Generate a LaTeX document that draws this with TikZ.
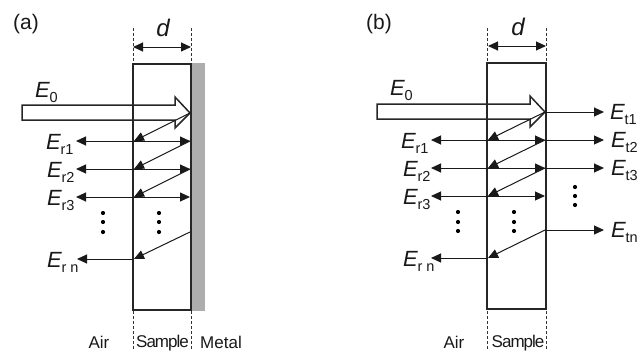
\documentclass[tikz,border=0pt]{standalone}
\usepackage{fontspec}
\setmainfont{Liberation Sans}
\usetikzlibrary{arrows.meta}
\tikzset{
  ln/.style={line width=1.5pt,black!85},
  ray/.style={line width=1pt,black!90,-{Triangle[length=10pt,width=9pt]}},
  dray/.style={line width=1pt,black!90,{Triangle[length=10pt,width=9pt]}-{Triangle[length=10pt,width=9pt]}},
  guide/.style={line width=0.7pt,black!80,dash pattern=on 3pt off 2pt},
  hollow/.style={line width=1.5pt,black!85,fill=white,line join=miter},
  lab/.style={inner sep=0pt,font=\fontsize{21}{21}\selectfont,black!90},
  elab/.style={inner sep=0pt,font=\fontsize{22}{22}\selectfont,black!90,anchor=base west},
  sm/.style={inner sep=0pt,font=\fontsize{17}{17}\selectfont,black!90},
  tight/.style={inner sep=0pt,font=\fontsize{17}{17}\selectfont\addfontfeature{LetterSpace=-6},black!90},
  dotm/.style={circle,fill=black,inner sep=0pt,minimum size=4.2pt}
}
\newcommand{\EE}[1]{\textit{E}\kern-0.5pt\raisebox{-5pt}{\fontsize{14.5}{15}\selectfont #1}}
\begin{document}
\begin{tikzpicture}[x=1pt,y=-1pt]
\useasboundingbox (0,0) rectangle (638,351);
% ---------- (a)
\node[lab] (pa) at (26,24) {(a)};
\fill[black!32] (191,63) rectangle (204.5,311);
\draw[guide] (133,28) -- (133,63);
\draw[guide] (191,28) -- (191,63);
\draw[guide] (133,311) -- (133,351);
\draw[guide] (191,311) -- (191,351);
\node[inner sep=0pt,font=\fontsize{24}{24}\selectfont\itshape,black!90] (da) at (163,28) {d};
\coordinate (dal) at (133,47); \coordinate (dar) at (191,47);
\draw[dray] (dal) -- (dar);
\draw[hollow] (22,105)--(175,105)--(175,97)--(190,113)--(175,128)--(175,120)--(22,120)--cycle;
\draw[ln] (133,64) rectangle (191,310);
\draw[ln] (133,105) -- (133,120);
\draw[ray] (190,113) -- (134,141);
\draw[dray] (76,141) -- (190,141);
\draw[ray] (190,141) -- (134,169);
\draw[dray] (76,169) -- (190,169);
\draw[ray] (190,169) -- (134,197);
\draw[dray] (76,197) -- (190,197);
\draw[ray] (190,232) -- (134,259);
\draw[ray] (134,259) -- (77,259);
\foreach \x in {103,159}{\foreach \y in {213,222,232}{\node[dotm] at (\x,\y) {};}}
\node[elab] (ae0) at (35,97) {\EE{0}};
\node[elab] (ae1) at (46,149) {\EE{r1}};
\node[elab] (ae2) at (47,177) {\EE{r2}};
\node[elab] (ae3) at (47,205) {\EE{r3}};
\node[elab] (aen) at (47,267) {\EE{r n}};
\node[sm] (aair) at (99,342) {Air};
\node[tight] (asam) at (162.5,343) {Sample};
\node[sm] (amet) at (221,342) {Metal};
% ---------- (b)
\node[lab] (pb) at (379,24) {(b)};
\draw[guide] (487,28) -- (487,62);
\draw[guide] (546,28) -- (546,62);
\draw[guide] (487,311) -- (487,351);
\draw[guide] (546,311) -- (546,351);
\node[inner sep=0pt,font=\fontsize{24}{24}\selectfont\itshape,black!90] (db) at (518,27) {d};
\coordinate (dbl) at (488,46); \coordinate (dbr) at (546,46);
\draw[dray] (dbl) -- (dbr);
\draw[hollow] (377,104)--(530,104)--(530,96)--(545,112)--(530,127)--(530,119)--(377,119)--cycle;
\draw[ln] (487,63) rectangle (546,309);
\draw[ln] (487,104) -- (487,119);
\draw[ray] (545,112) -- (488,140);
\draw[dray] (431,140) -- (545,140);
\draw[ray] (545,140) -- (488,168);
\draw[dray] (431,168) -- (545,168);
\draw[ray] (545,168) -- (488,196);
\draw[dray] (431,196) -- (545,196);
\draw[ray] (545,230) -- (488,258);
\draw[ray] (488,258) -- (431,258);
\draw[ray] (545,112) -- (604,112);
\draw[ray] (545,140) -- (604,140);
\draw[ray] (545,168) -- (604,168);
\draw[ray] (545,230) -- (604,230);
\foreach \x in {458,514}{\foreach \y in {212,222,231}{\node[dotm] at (\x,\y) {};}}
\foreach \y in {187,196,205}{\node[dotm] at (575,\y) {};}
\node[elab] (be0) at (390,95) {\EE{0}};
\node[elab] (be1) at (401,148) {\EE{r1}};
\node[elab] (be2) at (403,176) {\EE{r2}};
\node[elab] (be3) at (403,204) {\EE{r3}};
\node[elab] (ben) at (403,266) {\EE{r n}};
\node[elab] (bt1) at (610,119) {\EE{t1}};
\node[elab] (bt2) at (611,147) {\EE{t2}};
\node[elab] (bt3) at (611,175) {\EE{t3}};
\node[elab] (btn) at (611,237) {\EE{tn}};
\node[sm] (bair) at (454,342) {Air};
\node[tight] (bsam) at (518,343) {Sample};
\end{tikzpicture}
\end{document}
